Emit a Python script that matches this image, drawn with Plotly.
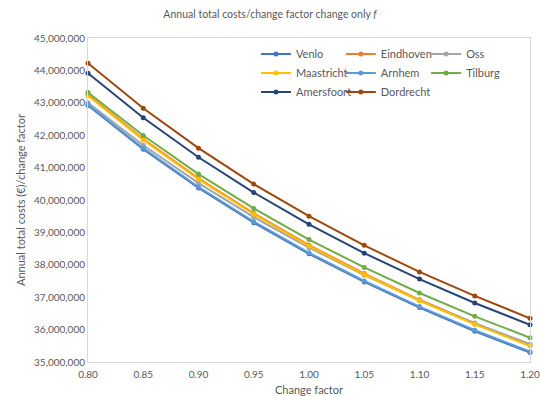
import plotly.graph_objects as go

change_factor = [0.80, 0.85, 0.90, 0.95, 1.00, 1.05, 1.10, 1.15, 1.20]

venlo      = [42.92e6, 41.57e6, 40.37e6, 39.30e6, 38.34e6, 37.47e6, 36.68e6, 35.95e6, 35.29e6]
eindhoven  = [43.25e6, 41.88e6, 40.67e6, 39.59e6, 38.61e6, 37.73e6, 36.92e6, 36.19e6, 35.52e6]
oss        = [43.00e6, 41.69e6, 40.52e6, 39.47e6, 38.53e6, 37.68e6, 36.90e6, 36.20e6, 35.55e6]
maastricht = [43.22e6, 41.85e6, 40.64e6, 39.56e6, 38.58e6, 37.70e6, 36.89e6, 36.16e6, 35.49e6]
arnhem     = [42.95e6, 41.60e6, 40.40e6, 39.33e6, 38.37e6, 37.50e6, 36.71e6, 35.98e6, 35.32e6]
tilburg    = [43.32e6, 41.99e6, 40.80e6, 39.74e6, 38.78e6, 37.92e6, 37.13e6, 36.41e6, 35.75e6]
amersfoort = [43.91e6, 42.54e6, 41.32e6, 40.23e6, 39.25e6, 38.36e6, 37.56e6, 36.82e6, 36.15e6]
dordrecht  = [44.22e6, 42.83e6, 41.60e6, 40.49e6, 39.50e6, 38.60e6, 37.78e6, 37.04e6, 36.35e6]

series = [
    ("Venlo", venlo, "#4472C4", "legend"),
    ("Eindhoven", eindhoven, "#ED7D31", "legend2"),
    ("Oss", oss, "#A5A5A5", "legend3"),
    ("Maastricht", maastricht, "#FFC000", "legend"),
    ("Arnhem", arnhem, "#5B9BD5", "legend2"),
    ("Tilburg", tilburg, "#70AD47", "legend3"),
    ("Amersfoort", amersfoort, "#264478", "legend"),
    ("Dordrecht", dordrecht, "#9E480E", "legend2"),
]

FONT = "Lato"
TXT = "#595959"

fig = go.Figure()
for name, vals, col, lg in series:
    fig.add_trace(go.Scatter(
        x=change_factor, y=vals, name=name, mode="lines+markers",
        line=dict(color=col, width=2),
        marker=dict(color=col, size=5, symbol="circle"),
        cliponaxis=False, legend=lg,
    ))

def leg(x):
    return dict(orientation="v", x=x, y=0.995, xanchor="left", yanchor="top",
                xref="paper", yref="paper", itemwidth=30,
                font=dict(family=FONT, size=11, color=TXT),
                bgcolor="rgba(0,0,0,0)", borderwidth=0)

fig.update_layout(
    width=540, height=396,
    margin=dict(l=88, r=10, t=38, b=34, autoexpand=False),
    paper_bgcolor="white", plot_bgcolor="white",
    font=dict(family=FONT, size=10, color=TXT),
    title=dict(text="Annual total costs/change factor change only <i>f</i>",
               x=0.5, xanchor="center", y=0.965, yanchor="middle",
               font=dict(family=FONT, size=10.5, color=TXT)),
    showlegend=True,
    legend=leg(0.380),
    legend2=leg(0.572),
    legend3=leg(0.765),
    xaxis=dict(
        range=[0.80, 1.20], dtick=0.05, tick0=0.80, tickformat=".2f",
        showgrid=False, zeroline=False, showline=True, linecolor="#D9D9D9",
        linewidth=1, mirror=True, ticks="", ticklabelstandoff=3, automargin=False,
        ticklabeloverflow="allow",
        title=dict(text="Change factor", font=dict(family=FONT, size=11, color=TXT), standoff=9),
        tickfont=dict(family=FONT, size=10, color=TXT),
    ),
    yaxis=dict(
        range=[35e6, 45e6], dtick=1e6, tickformat=",d", automargin=False,
        ticklabeloverflow="allow",
        showgrid=False, zeroline=False, showline=True, linecolor="#D9D9D9",
        linewidth=1, mirror=True, ticks="",
        title=dict(text="Annual total costs (€)/change factor", font=dict(family=FONT, size=11, color=TXT), standoff=6),
        tickfont=dict(family=FONT, size=10, color=TXT),
    ),
)

fig.write_html("out.html")
